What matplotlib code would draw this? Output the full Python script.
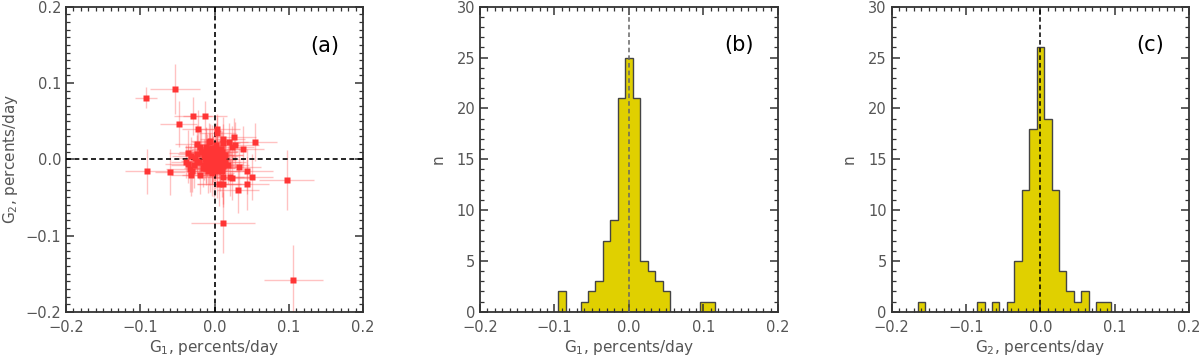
import numpy as np
import matplotlib
matplotlib.use('Agg')
import matplotlib.pyplot as plt
from matplotlib.ticker import MultipleLocator

# ── data ─────────────────────────────────────────────────────────────────────
# panel (a): G1, G2 rates (percents/day) with their errors
g1 = [-0.092, -0.053, -0.029, -0.013, -0.048, -0.022, 0.004, 0.004, 0.054, 0.039,
      -0.091, -0.060, 0.0975, 0.012, 0.106, 0.032, 0.044, 0.044, 0.051, 0.033,
      0.023, 0.021, 0.011, 0.006, 0.012, 0.026, 0.028, 0.023, 0.020, 0.011,
      -0.008, -0.006, -0.023, -0.020, -0.036, -0.036, -0.033, -0.031, -0.019, -0.004,
      -0.038, -0.032, -0.028, -0.026, -0.030,
      -0.024, -0.021, -0.018, -0.016, -0.023,
      -0.014, -0.012, -0.011, -0.009, -0.008, -0.013, -0.007, -0.010, -0.006, -0.012,
      -0.008, -0.014, -0.009, -0.006, -0.011, -0.007, -0.013, -0.010,
      -0.004, -0.002, 0.000, 0.002, -0.003, 0.001, 0.003, -0.001, 0.004, -0.004,
      0.002, 0.000, -0.002, 0.003, -0.003, 0.001, 0.004, -0.001, 0.002, -0.004,
      0.000, 0.003,
      0.006, 0.008, 0.010, 0.007, 0.012, 0.009, 0.006, 0.011, 0.013, 0.008,
      0.014, 0.007, 0.010, 0.012, 0.009, 0.014,
      0.018]
g2 = [0.081, 0.092, 0.057, 0.057, 0.046, 0.040, 0.040, 0.034, 0.023, 0.014,
      -0.016, -0.017, -0.027, -0.083, -0.158, -0.040, -0.032, -0.016, -0.023, -0.010,
      -0.024, -0.023, -0.033, -0.033, -0.023, 0.029, 0.019, 0.016, 0.023, 0.026,
      0.023, 0.024, 0.020, 0.016, 0.008, -0.006, -0.013, -0.020, -0.021, -0.018,
      -0.003, 0.004, -0.008, 0.002, -0.015,
      0.007, -0.004, 0.010, -0.011, -0.002,
      0.004, -0.006, 0.012, 0.001, -0.009, 0.008, 0.006, -0.002, -0.013, 0.016,
      0.013, -0.007, -0.016, 0.009, -0.012, -0.001, 0.000, 0.005,
      0.002, -0.005, 0.010, -0.002, 0.015, 0.006, -0.010, -0.014, 0.003, -0.008,
      0.019, -0.001, 0.008, 0.012, -0.003, -0.007, -0.016, 0.004, 0.000, 0.011,
      -0.011, 0.007,
      0.004, -0.006, 0.009, -0.012, 0.001, 0.014, -0.003, -0.009, 0.006, 0.000,
      -0.004, 0.011, -0.015, 0.021, -0.001, 0.005,
      -0.008]
g1_err = [0.015, 0.034, 0.026, 0.030, 0.025, 0.022, 0.030, 0.025, 0.030, 0.028,
          0.030, 0.020, 0.037, 0.043, 0.040, 0.028, 0.030, 0.035, 0.028, 0.030,
          0.025, 0.030, 0.035, 0.030, 0.028, 0.030, 0.032, 0.030, 0.025, 0.030,
          0.022, 0.025, 0.030, 0.020, 0.025, 0.030, 0.032, 0.028, 0.025, 0.030,
          0.020, 0.025, 0.030, 0.022, 0.028,
          0.025, 0.020, 0.030, 0.025, 0.022,
          0.020, 0.025, 0.028, 0.018, 0.022, 0.025, 0.030, 0.020, 0.025, 0.028,
          0.022, 0.020, 0.025, 0.030, 0.018, 0.022, 0.025, 0.020,
          0.025, 0.020, 0.030, 0.022, 0.018, 0.025, 0.028, 0.020, 0.025, 0.022,
          0.030, 0.020, 0.025, 0.018, 0.022, 0.025, 0.030, 0.020, 0.022, 0.025,
          0.028, 0.020,
          0.025, 0.030, 0.022, 0.020, 0.028, 0.025, 0.030, 0.022, 0.025, 0.020,
          0.028, 0.025, 0.030, 0.022, 0.020, 0.025,
          0.028]
g2_err = [0.014, 0.033, 0.025, 0.020, 0.030, 0.025, 0.020, 0.022, 0.025, 0.030,
          0.030, 0.030, 0.039, 0.040, 0.045, 0.030, 0.035, 0.030, 0.030, 0.028,
          0.030, 0.025, 0.030, 0.028, 0.035, 0.025, 0.030, 0.028, 0.025, 0.030,
          0.025, 0.022, 0.025, 0.020, 0.030, 0.025, 0.030, 0.028, 0.025, 0.030,
          0.022, 0.025, 0.030, 0.020, 0.028,
          0.025, 0.022, 0.030, 0.025, 0.020,
          0.022, 0.025, 0.030, 0.020, 0.025, 0.028, 0.022, 0.020, 0.030, 0.025,
          0.022, 0.020, 0.028, 0.025, 0.022, 0.020, 0.025, 0.028,
          0.020, 0.025, 0.028, 0.022, 0.030, 0.020, 0.025, 0.035, 0.022, 0.025,
          0.028, 0.020, 0.022, 0.025, 0.030, 0.022, 0.035, 0.020, 0.025, 0.022,
          0.028, 0.020,
          0.022, 0.025, 0.028, 0.030, 0.020, 0.025, 0.022, 0.028, 0.020, 0.025,
          0.022, 0.028, 0.035, 0.025, 0.020, 0.022,
          0.025]

# panels (b), (c): histogram counts, bin width 0.01 starting at left edge
hist_b_start = -0.095
hist_b_counts = [2, 0, 0, 1, 2, 3, 7, 9, 21, 25, 21, 5, 4, 3, 2, 0, 0, 0, 0, 1, 1]
hist_c_start = -0.165
hist_c_counts = [1, 0, 0, 0, 0, 0, 0, 0, 1, 0, 1, 0, 1, 5, 12, 18, 26, 19, 12, 4,
                 2, 1, 2, 0, 1, 1]
bin_width = 0.01

rate_ticks = [-0.2, -0.1, 0.0, 0.1, 0.2]
rate_labels = ['\u22120.2', '\u22120.1', '0.0', '0.1', '0.2']
n_ticks = [0, 5, 10, 15, 20, 25, 30]

TXT = '#555555'
YELLOW = '#e0d000'


def style_axes(ax):
    for s in ax.spines.values():
        s.set_color('#333333')
        s.set_linewidth(1.3)
    ax.tick_params(which='both', direction='in', top=True, right=True,
                   color='#333333', labelcolor=TXT, labelsize=10.5)
    ax.tick_params(which='major', length=6, width=1.1)
    ax.tick_params(which='minor', length=3, width=0.9)
    ax.tick_params(axis='x', pad=6)


fig = plt.figure(figsize=(12, 3.6), dpi=100)
ax_a = fig.add_axes([0.055, 0.134, 0.2475, 0.847])
ax_b = fig.add_axes([0.400, 0.134, 0.2483, 0.847])
ax_c = fig.add_axes([0.743, 0.134, 0.2480, 0.847])

# ── (a) scatter with error bars ──────────────────────────────────────────────
ax_a.axhline(0, color='black', ls=(0, (3, 2)), lw=1.2, zorder=3)
ax_a.axvline(0, color='black', ls=(0, (3, 2)), lw=1.2, zorder=3)
ax_a.errorbar(g1, g2, xerr=g1_err, yerr=g2_err, fmt='none',
              ecolor='#ff5050', alpha=0.35, elinewidth=1, capsize=0, zorder=1)
ax_a.plot(g1, g2, 's', color='#ff3535', ms=4.2, mec='none', zorder=4)
ax_a.set_xlim(-0.2, 0.2)
ax_a.set_ylim(-0.2, 0.2)
ax_a.set_xticks(rate_ticks)
ax_a.set_xticklabels(rate_labels)
ax_a.set_yticks(rate_ticks)
ax_a.set_yticklabels(rate_labels)
ax_a.xaxis.set_minor_locator(MultipleLocator(0.01))
ax_a.yaxis.set_minor_locator(MultipleLocator(0.01))
ax_a.set_xlabel('G$_1$, percents/day', color=TXT, fontsize=11, labelpad=2)
ax_a.set_ylabel('G$_2$, percents/day', color=TXT, fontsize=11, labelpad=4)
ax_a.text(0.87, 0.87, '(a)', transform=ax_a.transAxes, ha='center', va='center',
          fontsize=15)
style_axes(ax_a)

# ── (b), (c) histograms ──────────────────────────────────────────────────────
for ax, start, counts, lab, tag, lc in (
        (ax_b, hist_b_start, hist_b_counts, 'G$_1$, percents/day', '(b)', '#666666'),
        (ax_c, hist_c_start, hist_c_counts, 'G$_2$, percents/day', '(c)', 'black')):
    edges = start + bin_width * np.arange(len(counts) + 1)
    ax.stairs(counts, edges, fill=True, color=YELLOW, zorder=1)
    ax.stairs(counts, edges, color='#444444', lw=1.0, zorder=2)
    ax.axvline(0, color=lc, ls=(0, (3, 2)), lw=1.1, zorder=3)
    ax.set_xlim(-0.2, 0.2)
    ax.set_ylim(0, 30)
    ax.set_xticks(rate_ticks)
    ax.set_xticklabels(rate_labels)
    ax.set_yticks(n_ticks)
    ax.xaxis.set_minor_locator(MultipleLocator(0.01))
    ax.yaxis.set_minor_locator(MultipleLocator(1))
    ax.set_xlabel(lab, color=TXT, fontsize=11, labelpad=2)
    ax.set_ylabel('n', color=TXT, fontsize=11, labelpad=8)
    ax.text(0.87, 0.875, tag, transform=ax.transAxes, ha='center', va='center',
            fontsize=15)
    style_axes(ax)

fig.savefig('out.png', dpi=100)
